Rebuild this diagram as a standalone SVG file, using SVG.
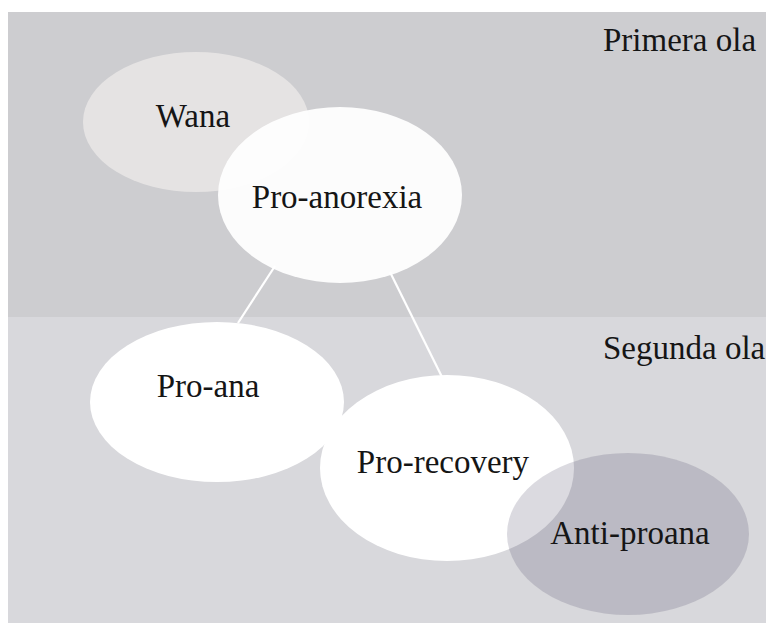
<svg xmlns="http://www.w3.org/2000/svg" width="766" height="623" viewBox="0 0 766 623">
<style>
text{font-family:"Liberation Serif","Times New Roman",serif;font-size:33px;fill:#151515}
.c{text-anchor:middle}
.w{fill:#ffffff}
.link{stroke:#ffffff;stroke-width:2.2;fill:none}
</style>
<rect x="0" y="0" width="766" height="623" fill="#ffffff"/>
<rect id="band1" x="8" y="12" width="758" height="305" fill="#cdcdd0"/>
<rect id="band2" x="8" y="317" width="758" height="306" fill="#d8d8dc"/>
<text x="603" y="51">Primera ola</text>
<text x="603" y="359">Segunda ola</text>
<g id="connectors">
<line class="link" x1="275" y1="266" x2="238" y2="323"/>
<line class="link" x1="390" y1="272" x2="442" y2="377"/>
</g>
<g id="wana">
<ellipse cx="196" cy="122" rx="113" ry="70" fill="#e5e3e3"/>
<text class="c" x="193" y="127">Wana</text>
</g>
<g id="pro-anorexia">
<ellipse class="w" cx="340" cy="195" rx="122" ry="88" fill-opacity="0.93"/>
<text class="c" x="337" y="208">Pro-anorexia</text>
</g>
<g id="pro-ana">
<ellipse class="w" cx="217" cy="402" rx="127" ry="80"/>
<text class="c" x="208" y="397">Pro-ana</text>
</g>
<g id="pro-recovery">
<ellipse class="w" cx="447" cy="468" rx="127" ry="93"/>
<text class="c" x="443" y="473">Pro-recovery</text>
</g>
<g id="anti-proana">
<ellipse cx="628" cy="534" rx="121" ry="81" fill="#4a4866" fill-opacity="0.2"/>
<text class="c" x="630" y="544">Anti-proana</text>
</g>
</svg>
